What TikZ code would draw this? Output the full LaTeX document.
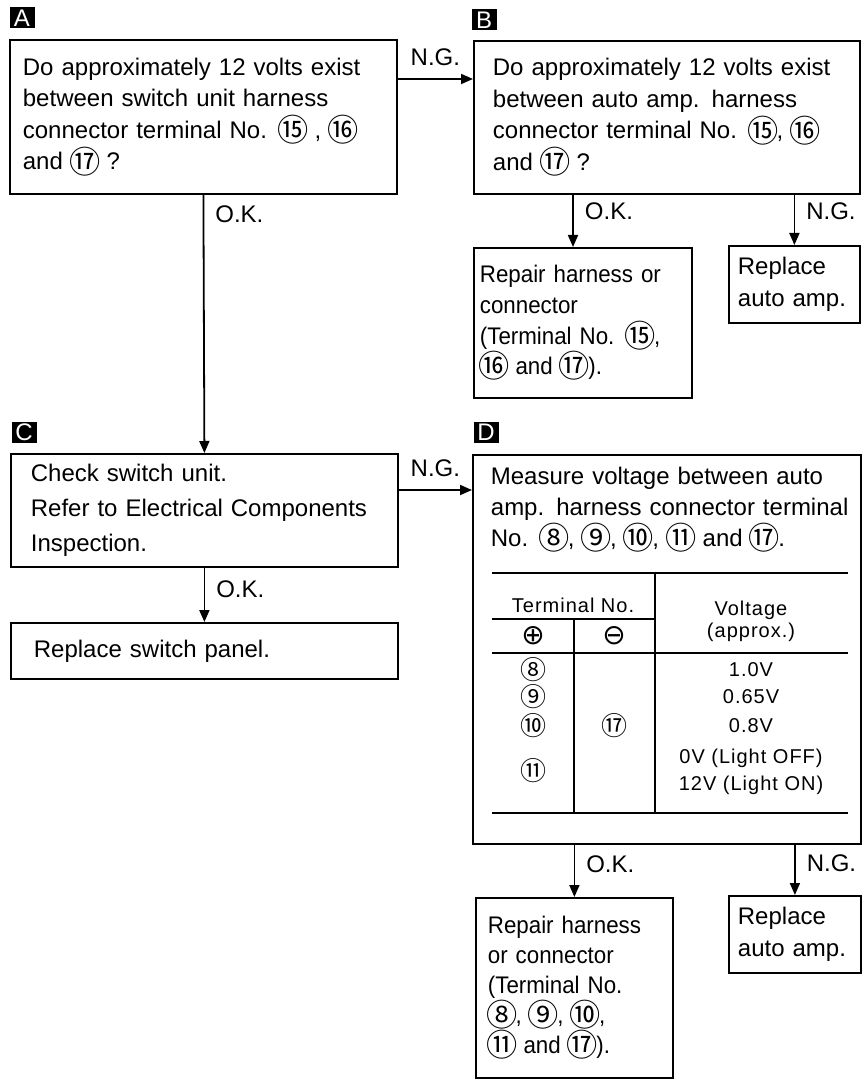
\documentclass[tikz,border=0pt]{standalone}
\usepackage{fontspec}
\usepackage{graphicx}
\setmainfont{Liberation Sans}
\newfontfamily\cjk{Noto Sans CJK SC}
\newfontfamily\symfnt{DejaVu Sans}
\newfontfamily\tabfnt[LetterSpace=5]{Liberation Sans}
\newfontfamily\narrowfnt[FakeStretch=0.93]{Liberation Sans}
\usepackage{tikz}
\usetikzlibrary{calc, arrows.meta}
\newcommand{\cn}[1]{\makebox[1.15em]{\raisebox{-0.13em}{\scalebox{1.3}{\cjk #1}}}}
\tikzset{
  box/.style={draw, anchor=north west, align=left, inner ysep=0pt, font=\fontsize{12}{16}\selectfont},
  tag/.style={fill=black, text=white, inner sep=0pt, minimum width=12.5pt, minimum height=10.5pt, font=\fontsize{12}{12}\selectfont},
  lbl/.style={font=\fontsize{12}{12}\selectfont, inner sep=2pt},
  tab/.style={font=\tabfnt\fontsize{10}{12}\selectfont, inner sep=0pt},
}

\begin{document}
\begin{tikzpicture}[x=0.5pt, y=-0.5pt, line width=0.9pt, >={Triangle[length=6pt, width=5pt]}]
    \useasboundingbox (0,0) rectangle (862,1080);

    \node[tag] (taga) at (22,18) {A};
    \node[box, text width=180.5pt, inner xsep=6.5pt, minimum height=77pt, font=\fontsize{12}{15.75}\selectfont] (a) at (9,39)
        {Do approximately 12 volts exist\\ between switch unit harness\\ connector terminal No. \cn{⑮} , \cn{⑯}\\ and \cn{⑰} ?};

    \node[tag] (tagb) at (484,20) {B};
    \node[box, text width=174pt, inner xsep=9.5pt, minimum height=76.5pt, font=\fontsize{12}{15.75}\selectfont] (b) at (473,40)
        {Do approximately 12 volts exist\\ between auto amp. harness\\ connector terminal No. \cn{⑮}, \cn{⑯}\\ and \cn{⑰} ?};
    \node[box, text width=103pt, inner xsep=3pt, minimum height=75pt, font=\narrowfnt\fontsize{12}{15.35}\selectfont] (bok) at (473,247)
        {Repair harness or\\ connector\\ (Terminal No. \cn{⑮},\\ \cn{⑯} and \cn{⑰}).};
    \node[box, text width=56.5pt, inner xsep=4.5pt, minimum height=38.5pt] (bng) at (728,245) {Replace\\ auto amp.};

    \node[tag] (tagc) at (24,432) {C};
    \node[box, text width=173.5pt, inner xsep=10pt, minimum height=56.5pt, font=\fontsize{12}{17.5}\selectfont] (c) at (10,453)
        {Check switch unit.\\ Refer to Electrical Components\\ Inspection.};
    \node[box, text width=170.5pt, inner xsep=11.5pt, minimum height=28pt] (cok) at (10,622) {Replace switch panel.};

    \node[tag] (tagd) at (486,432) {D};
    \node[box, minimum width=194pt, minimum height=194.5pt] (d) at (472,454) {};
    \node[box, draw=none, inner sep=0pt, text width=180pt, font=\fontsize{12}{15.5}\selectfont] (dtext) at ([xshift=9pt, yshift=-6pt]d.north west)
        {Measure voltage between auto\\ amp. harness connector terminal\\ No. \cn{⑧}, \cn{⑨}, \cn{⑩}, \cn{⑪} and \cn{⑰}.};
    \node[box, text width=86.5pt, inner xsep=6pt, minimum height=90pt, font=\narrowfnt\fontsize{12}{15}\selectfont] (dok) at (475,897)
        {Repair harness\\ or connector\\ (Terminal No.\\ \cn{⑧}, \cn{⑨}, \cn{⑩},\\ \cn{⑪} and \cn{⑰}).};
    \node[box, text width=57pt, inner xsep=4.5pt, minimum height=38.5pt] (dng) at (728,895) {Replace\\ auto amp.};

    \draw[line width=1.4pt] (492,573) -- (848,573) (492,813) -- (848,813);
    \draw[line width=0.6pt] (492,619) -- (655,619) (492,653) -- (848,653) (655,573) -- (655,813) (574,619) -- (574,813);
    \node[tab] (tterm) at (573,605) {Terminal No.};
    \node[tab, font=\symfnt\fontsize{14}{14}\selectfont] (tplus) at (533,636) {⊕};
    \node[tab, font=\symfnt\fontsize{14}{14}\selectfont] (tminus) at (614,636) {⊖};
    \node[tab] (tvolt) at (751,610) {Voltage};
    \node[tab] (tappr) at (751,632) {(approx.)};
    \foreach \y/\n/\v in {670/⑧/1.0V, 697/⑨/0.65V, 726/⑩/0.8V}{
        \node[tab] (p\y) at (533,\y) {\cn{\n}};
        \node[tab] (v\y) at (751,\y) {\v};
    }
    \node[tab] (p771) at (533,771) {\cn{⑪}};
    \node[tab] (m726) at (614,726) {\cn{⑰}};
    \node[tab] (voff) at (751,758) {0V (Light OFF)};
    \node[tab] (von) at (751,785) {12V (Light ON)};

    \coordinate (ab) at ([yshift=-20pt]a.north east);
    \coordinate (cd) at ([yshift=-18.5pt]c.north east);
    \coordinate (bo) at ([xshift=50pt]b.south west);
    \draw[->] (ab) -- node[lbl, above=4pt] (ngab) {N.G.} (ab -| b.west);
    \draw[->] (a.south) -- node[lbl, pos=0.077, right=3.5pt] (okac) {O.K.} (c.north);
    \draw[->] (bo) -- node[lbl, pos=0.31, right=3.5pt] (okb) {O.K.} (bo |- bok.north);
    \draw[->] (b.south -| bng.north) -- node[lbl, pos=0.32, right=3.5pt] (ngb) {N.G.} (bng.north);
    \draw[->] (cd) -- node[lbl, above=4pt] (ngcd) {N.G.} (cd -| d.west);
    \draw[->] (c.south) -- node[lbl, pos=0.39, right=3.5pt] (okc) {O.K.} (cok.north);
    \draw[->] (d.south -| dok.north) -- node[lbl, pos=0.37, right=3.5pt] (okd) {O.K.} (dok.north);
    \draw[->] (d.south -| dng.north) -- node[lbl, pos=0.37, right=3.5pt] (ngd) {N.G.} (dng.north);
\end{tikzpicture}
\end{document}
